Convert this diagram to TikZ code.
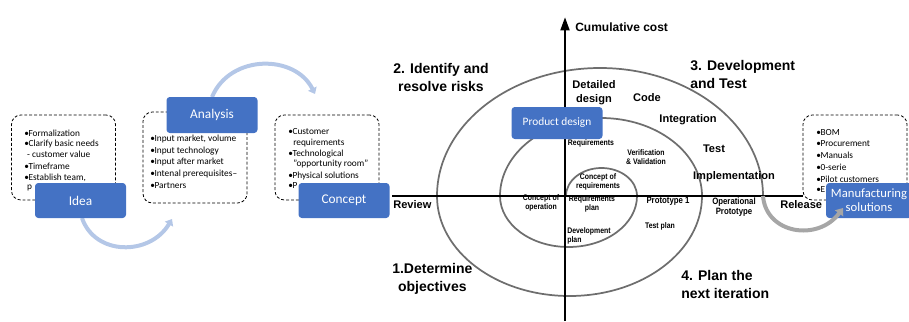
\documentclass[tikz,border=0pt]{standalone}
\usepackage{fontspec}
\setmainfont{Carlito}
\newfontfamily\arialfont{Liberation Sans}
\newfontfamily\narrowfont[FakeStretch=0.85]{Liberation Sans}
\usetikzlibrary{arrows.meta,positioning}

\definecolor{boxblue}{HTML}{4472C4}
\definecolor{arrowblue}{HTML}{B4C7E7}
\definecolor{ringgray}{HTML}{6E6E6E}
\definecolor{releasegray}{HTML}{A6A6A6}

\def\px{0.75pt}
\newcommand{\bul}{\makebox[3.2pt][l]{•}}
\newcommand{\ind}{\hspace*{2.2pt}}

\tikzset{
  phase/.style={fill=boxblue,text=white,rounded corners=2.5pt,inner sep=1pt,
    minimum width=91*\px,minimum height=35*\px,align=center,
    font=\fontsize{10}{10.5}\selectfont},
  notes/.style={draw,line width=0.6pt,dash pattern=on 2.2pt off 1.5pt,
    rounded corners=7pt,minimum width=104*\px,minimum height=85*\px},
  item/.style={anchor=west,inner sep=0pt,font=\fontsize{7}{8}\selectfont},
  turn/.style={arrowblue,line width=3pt,-{Triangle[length=4.5pt,width=7pt]}},
  ring/.style={ringgray,line width=1.3pt},
  axis/.style={black,line width=2pt},
  big/.style={inner sep=0pt,font=\arialfont\bfseries\fontsize{10.5}{13.5}\selectfont},
  mid/.style={inner sep=0pt,align=center,font=\arialfont\bfseries\fontsize{8.3}{10.5}\selectfont},
  small/.style={inner sep=0pt,align=center,font=\narrowfont\bfseries\fontsize{6.1}{6.8}\selectfont},
}

\begin{document}
\begin{tikzpicture}[x=0.75pt,y=-0.75pt]
\clip (0,0) rectangle (909,321);

% spiral and axes
\coordinate (s0) at (566,196);
\draw[ring] (s0) arc[start angle=180,end angle=0,x radius=35.5*\px,y radius=28*\px]
  arc[start angle=0,end angle=-180,x radius=68.5*\px,y radius=51*\px]
  arc[start angle=180,end angle=0,x radius=101*\px,y radius=78*\px]
  arc[start angle=0,end angle=-180,x radius=132.5*\px,y radius=100*\px]
  arc[start angle=180,end angle=0,x radius=163*\px,y radius=128*\px] coordinate (s5);

\coordinate (xl) at (392,196);
\coordinate (xr) at (803,196);
\coordinate (yb) at (565,321);
\coordinate (yt) at (565,17);
\draw[axis] (xl) -- (xr);
\draw[axis,-{Triangle[length=10pt,width=6.5pt]}] (yb) -- (yt);

% quadrant labels
\node[big,anchor=west] (cost) at (575,27) {\fontsize{9}{11}\selectfont Cumulative cost};
\node[big,anchor=west,align=center] (q2) at (393,77) {2. Identify and\\resolve risks};
\node[big,anchor=west,align=left] (q3) at (690,74) {3. Development\\and Test};
\node[big,anchor=west,align=center] (q1) at (392,279) {1.Determine\\objectives};
\node[big,anchor=west,align=left] (q4) at (681,284) {4. Plan the\\next iteration};

% labels on the spiral
\node[mid] (detail) at (594,93) {Detailed\\design};
\node[mid] (code) at (647,98) {Code};
\node[mid] (integr) at (688,120) {Integration};
\node[mid] (test) at (714,149) {Test};
\node[mid] (impl) at (734,177) {Implementation};
\node[mid,anchor=west] (rel) at (780,205) {Release};
\node[mid,anchor=west] (rev) at (393,205) {Review};

\node[small] (req) at (591,143) {Requirements};
\node[small] (verif) at (646,157) {Verification\\\& Validation};
\node[small] (conreq) at (598,182) {Concept of\\requirements};
\node[small] (conop) at (541,203) {Concept of\\operation};
\node[small] (reqplan) at (592,204) {Requirements\\plan};
\node[small,align=left,anchor=west] (devplan) at (567,236) {Development\\plan};
\node[small,font=\narrowfont\bfseries\fontsize{6.9}{7.6}\selectfont] (proto) at (668,201) {Prototype 1};
\node[small] (tplan) at (660,226) {Test plan};
\node[small,font=\narrowfont\bfseries\fontsize{6.9}{7.6}\selectfont] (oproto) at (734,207) {Operational\\Prototype};

% dashed note boxes
\node[notes] (n1) at (63.5,157.5) {};
\node[notes,minimum height=91*\px] (n2) at (195,157.5) {};
\node[notes] (n3) at (327,157.5) {};
\node[notes] (n5) at (855,157.5) {};

\foreach \y/\t [count=\i] in {133/{\bul Formalization},144/{\bul Clarify basic needs},
    154/{\ind- customer value},166/{\bul Timeframe},178/{\bul Establish team,},188/{\ind p}}
  \node[item] (a\i) at (24,\y) {\t};

\foreach \y/\t [count=\i] in {139/{\bul Input market, volume},151/{\bul Input technology},
    162/{\bul Input after market},174/{\bul Intenal prerequisites–},186/{\bul Partners}}
  \node[item] (b\i) at (150,\y) {\t};

\foreach \y/\t [count=\i] in {132/{\bul Customer},143/{\ind\ requirements},154/{\bul Technological},
    164/{\ind\ "opportunity room"},176/{\bul Physical solutions},186/{\bul P}}
  \node[item] (c\i) at (288,\y) {\t};

\foreach \y/\t [count=\i] in {133/{\bul BOM},144/{\bul Procurement},155/{\bul Manuals},
    167/{\bul 0-serie},179/{\bul Pilot customers},190/{\bul E}}
  \node[item] (e\i) at (816,\y) {\t};

% turning arrows between phases
\coordinate (t1) at (172,219);
\coordinate (t2) at (315,94);
\coordinate (t1s) at (82,218);
\coordinate (t2s) at (212,97);
\draw[turn] (t1s) .. controls (95,256) and (150,256) .. (t1);
\draw[turn] (t2s) .. controls (230,54) and (295,54) .. (t2);

% phases
\node[phase] (idea) at (80.5,200.5) {Idea};
\node[phase,minimum height=36*\px] (analysis) at (212,115) {Analysis};
\node[phase] (concept) at (344,200.5) {Concept};
\node[phase,minimum height=32*\px,font=\fontsize{8.5}{10}\selectfont] (pdesign) at (557,123) {Product design};
\node[phase,minimum width=86*\px,font=\fontsize{9.5}{10.5}\selectfont] (manuf) at (869,200.5) {Manufacturing\\solutions};

% release
\coordinate (mtip) at (843,208);
\draw[releasegray,line width=3pt,-{Triangle[length=5pt,width=7.5pt]}] (s5) .. controls (766,234) and (818,242) .. (mtip);

\end{tikzpicture}
\end{document}
